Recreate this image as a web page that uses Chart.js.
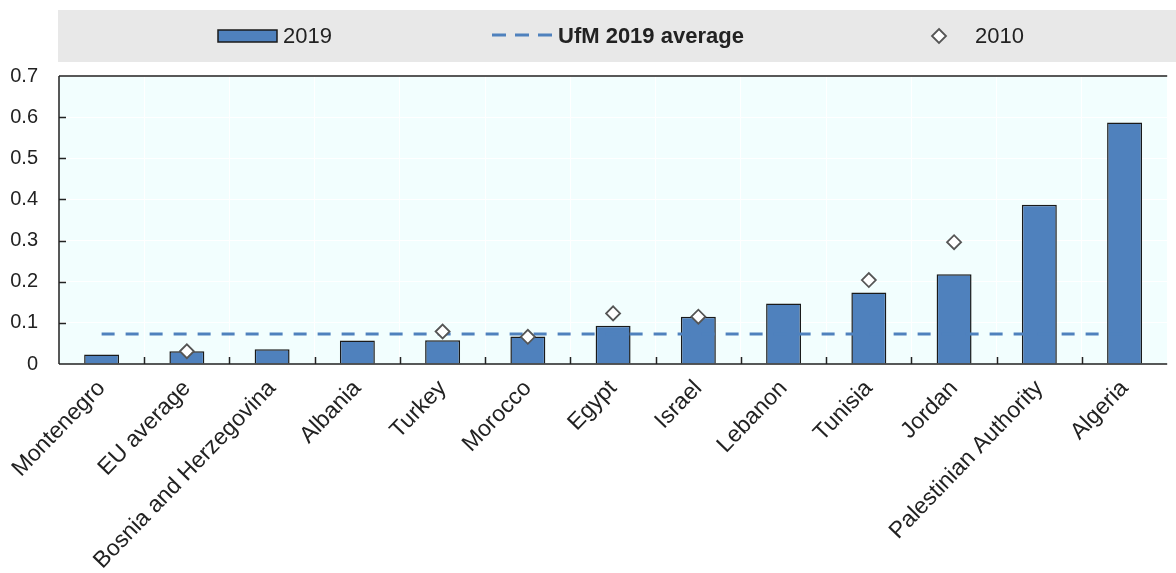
<!DOCTYPE html>
<html>
<head>
<meta charset="utf-8">
<script src="https://cdn.jsdelivr.net/npm/chart.js@4"></script>
<style>
  html, body { margin: 0; background: #fff; }
  #wrap { width: 1176px; height: 573px; position: relative; }
</style>
</head>
<body>
<div id="wrap"><canvas id="chart"></canvas></div>
<script>
// values
const countries = ["Montenegro", "EU average", "Bosnia and Herzegovina", "Albania", "Turkey", "Morocco",
                   "Egypt", "Israel", "Lebanon", "Tunisia", "Jordan", "Palestinian Authority", "Algeria"];
const values2019 = [0.023, 0.031, 0.036, 0.057, 0.058, 0.067, 0.093, 0.115, 0.147, 0.174, 0.218, 0.387, 0.587];
const values2010 = [null, 0.031, null, null, 0.079, 0.066, 0.123, 0.115, null, 0.204, 0.296, null, null];
const ufmAverage2019 = 0.073;
const yTickLabels = ["0", "0.1", "0.2", "0.3", "0.4", "0.5", "0.6", "0.7"];

const FONT = '"Liberation Sans", Arial, sans-serif';
const BAR_BLUE = '#4f81bd';
const INK = '#222222';

// plot background, frame, inner tick marks and the legend band
const framePlugin = {
    id: 'frame',
    beforeDraw(chart) {
        const { ctx, chartArea: a } = chart;
        ctx.save();
        ctx.fillStyle = '#e8e8e8';
        ctx.fillRect(a.left - 1, 10, chart.width - a.left + 1, 52);
        ctx.fillStyle = '#f2fefe';
        ctx.fillRect(a.left, a.top, a.right - a.left, a.bottom - a.top);
        ctx.restore();
    },
    afterDatasetsDraw(chart) {
        const { ctx, chartArea: a } = chart;
        const xs = chart.scales.x, ys = chart.scales.y;
        ctx.save();
        ctx.strokeStyle = INK;
        ctx.lineWidth = 1.5;
        // frame: top, left, bottom
        ctx.beginPath();
        ctx.moveTo(a.left, a.top); ctx.lineTo(a.right, a.top);
        ctx.moveTo(a.left, a.top); ctx.lineTo(a.left, a.bottom);
        ctx.moveTo(a.left, a.bottom); ctx.lineTo(a.right, a.bottom);
        ctx.stroke();
        // category boundary ticks pointing up
        ctx.beginPath();
        for (let i = 0; i < countries.length - 1; i++) {
            const bx = (xs.getPixelForValue(i) + xs.getPixelForValue(i + 1)) / 2;
            ctx.moveTo(Math.round(bx) + 0.5, a.bottom);
            ctx.lineTo(Math.round(bx) + 0.5, a.bottom - 7);
        }
        // value ticks pointing right
        ys.ticks.forEach(t => {
            if (t.value <= 0 || t.value >= 0.7) return;
            const py = Math.round(ys.getPixelForValue(t.value)) + 0.5;
            ctx.moveTo(a.left, py);
            ctx.lineTo(a.left + 7, py);
        });
        ctx.stroke();
        ctx.restore();
    },
    afterDraw(chart) {
        const { ctx } = chart;
        const cy = 36;
        ctx.save();
        ctx.textBaseline = 'middle';
        // 2019 bar key
        ctx.fillStyle = BAR_BLUE;
        ctx.fillRect(218, 30, 59, 12);
        ctx.strokeStyle = '#1a1a1a';
        ctx.lineWidth = 1.5;
        ctx.strokeRect(218, 30, 59, 12);
        ctx.fillStyle = INK;
        ctx.font = '22px ' + FONT;
        ctx.fillText('2019', 283, cy + 1);
        // UfM dashed key
        ctx.strokeStyle = BAR_BLUE;
        ctx.lineWidth = 3;
        ctx.setLineDash([14, 9]);
        ctx.beginPath();
        ctx.moveTo(492, cy - 1); ctx.lineTo(555, cy - 1);
        ctx.stroke();
        ctx.setLineDash([]);
        ctx.font = 'bold 22px ' + FONT;
        ctx.fillText('UfM 2019 average', 558, cy + 1);
        // 2010 diamond key
        ctx.fillStyle = '#ffffff';
        ctx.strokeStyle = '#555555';
        ctx.lineWidth = 1.8;
        ctx.beginPath();
        ctx.moveTo(939, cy - 7); ctx.lineTo(946, cy); ctx.lineTo(939, cy + 7); ctx.lineTo(932, cy);
        ctx.closePath();
        ctx.fill(); ctx.stroke();
        ctx.fillStyle = INK;
        ctx.font = '22px ' + FONT;
        ctx.fillText('2010', 975, cy + 1);
        ctx.restore();
    }
};

new Chart(document.getElementById('chart'), {
    type: 'bar',
    data: {
        labels: countries,
        datasets: [
            {
                type: 'line',
                label: '2010',
                data: values2010,
                showLine: false,
                pointStyle: 'rectRot',
                pointRadius: 7,
                pointBackgroundColor: '#ffffff',
                pointBorderColor: '#555555',
                pointBorderWidth: 1.8,
                order: 1,
            },
            {
                type: 'line',
                label: 'UfM 2019 average',
                data: countries.map(() => ufmAverage2019),
                borderColor: BAR_BLUE,
                borderWidth: 3,
                borderDash: [13, 11],
                pointRadius: 0,
                fill: false,
                order: 2,
            },
            {
                label: '2019',
                data: values2019,
                backgroundColor: BAR_BLUE,
                borderColor: '#1a1a1a',
                borderWidth: 1.5,
                barPercentage: 0.41,
                categoryPercentage: 1,
                order: 3,
            },
        ]
    },
    options: {
        responsive: true,
        maintainAspectRatio: false,
        animation: false,
        layout: { padding: { top: 76, left: 0, right: 0, bottom: 0 } },
        plugins: { legend: { display: false }, tooltip: { enabled: false } },
        scales: {
            x: {
                grid: { color: '#ffffff', lineWidth: 1, drawTicks: false, offset: true },
                border: { display: false },
                ticks: {
                    color: INK, font: { family: FONT, size: 23 },
                    minRotation: 46, maxRotation: 46, padding: 11, autoSkip: false,
                },
                afterFit(scale) {
                    scale.height = 209;
                    scale.paddingLeft = 0;
                    scale.paddingRight = 0;
                },
            },
            y: {
                min: 0, max: 0.7,
                grid: { color: '#ffffff', lineWidth: 1, drawTicks: false },
                border: { display: false },
                ticks: {
                    stepSize: 0.1, color: INK, padding: 21,
                    font: { family: FONT, size: 20 },
                    callback: (v, i) => yTickLabels[i],
                },
                afterFit(scale) { scale.width = 59; },
            }
        }
    },
    plugins: [framePlugin]
});
</script>
</body>
</html>
